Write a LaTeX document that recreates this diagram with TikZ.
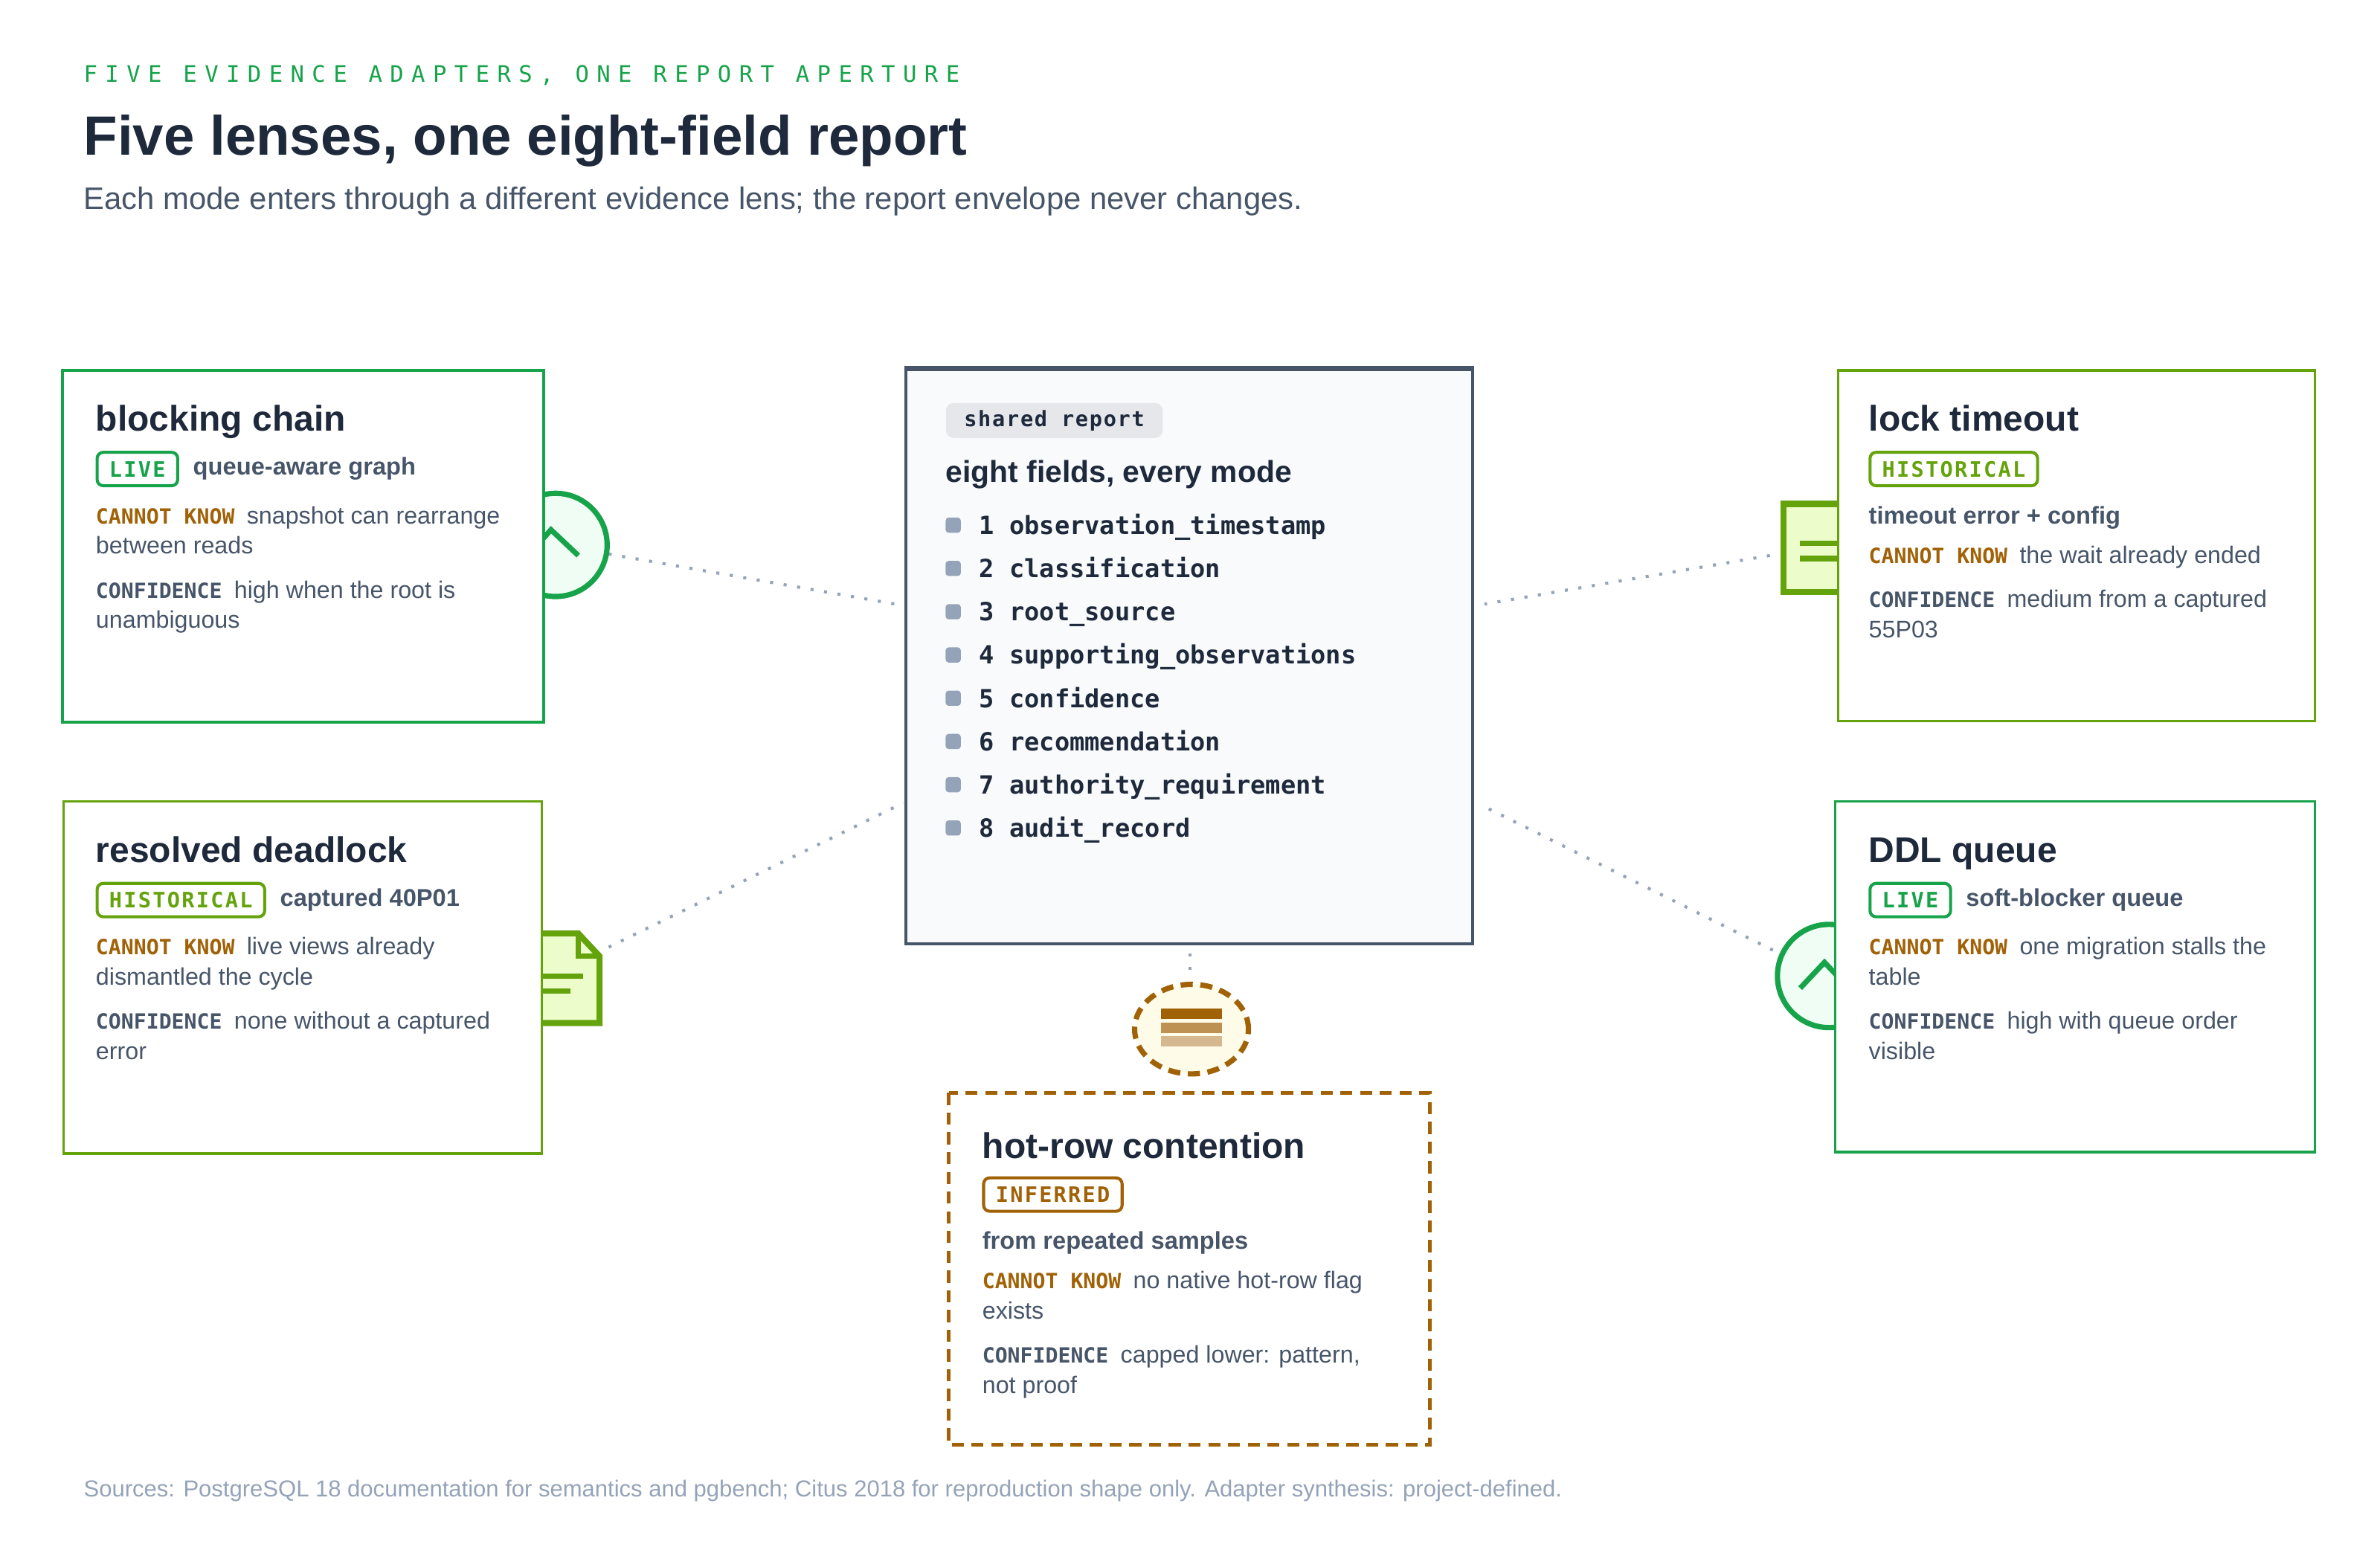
\documentclass[tikz,border=0pt]{standalone}
\usepackage{fontspec}
\setmainfont{Liberation Sans}
\newfontfamily\monofont{DejaVu Sans Mono}
\usetikzlibrary{positioning, shapes.geometric}
\definecolor{ink}{HTML}{1E293B}
\definecolor{slate}{HTML}{475569}
\definecolor{mute}{HTML}{94A3B8}
\definecolor{live}{HTML}{16A34A}
\definecolor{hist}{HTML}{65A30D}
\definecolor{infer}{HTML}{A16207}
\definecolor{livefill}{HTML}{F0FDF4}
\definecolor{histfill}{HTML}{ECFCCB}
\definecolor{inffill}{HTML}{FEFCE8}
\definecolor{panel}{HTML}{F8FAFC}
\definecolor{pill}{HTML}{E5E7EB}
\newcommand{\tagfont}{\monofont\bfseries\fontsize{13.8}{16}\selectfont}
\newcommand{\cannot}{\textcolor{infer}{\tagfont CANNOT KNOW}\hspace{8pt}}
\newcommand{\confid}{\textcolor{slate}{\tagfont CONFIDENCE}\hspace{8pt}}
\tikzset{%
    card/.style={draw=#1, fill=white, line width=1.6pt},
    mode title/.style={anchor=base west, inner sep=0, text=ink,
        font=\bfseries\fontsize{23.5}{26}\selectfont},
    badge/.style={draw=#1, text=#1, line width=2pt, rounded corners=4pt, anchor=west,
        inner xsep=8pt, inner ysep=0, minimum height=22pt,
        font=\monofont\bfseries\fontsize{14}{16}\selectfont\addfontfeatures{LetterSpace=8}},
    lens/.style={anchor=base west, inner sep=0, text=slate,
        font=\bfseries\fontsize{16}{19}\selectfont},
    body/.style={anchor=base west, inner sep=0, text=slate,
        font=\fontsize{15.8}{19}\selectfont},
    link/.style={mute, line width=2pt, dash pattern=on 2pt off 7pt},
    field/.style={anchor=base west, inner sep=0, text=ink,
        font=\monofont\bfseries\fontsize{16.5}{19}\selectfont}
}
\begin{document}
\begin{tikzpicture}[x=1pt, y=-1pt]
    \useasboundingbox[fill=white] (0, 0) rectangle (1568, 1019.2);

    % Heading
    \node[anchor=base west, inner sep=0, text=live,
        font=\monofont\fontsize{15}{18}\selectfont\addfontfeatures{LetterSpace=34}]
        (eyebrow) at (55, 54) {FIVE EVIDENCE ADAPTERS, ONE REPORT APERTURE};
    \node[anchor=base west, inner sep=0, text=ink,
        font=\bfseries\fontsize{36.5}{40}\selectfont]
        (title) at (55, 102) {Five lenses, one eight-field report};
    \node[anchor=base west, inner sep=0, text=slate,
        font=\fontsize{20.5}{23}\selectfont]
        (subtitle) at (55, 138) {Each mode enters through a different evidence lens; the report envelope never changes.};

    % Connector ends
    \coordinate (bcEnd) at (401, 365);
    \coordinate (ltEnd) at (1166, 366);
    \coordinate (rdEnd) at (401, 624);
    \coordinate (ddEnd) at (1168, 626);
    \coordinate (hrEnd) at (784, 645);
    \coordinate (repNW) at (590, 398);
    \coordinate (repNE) at (978, 398);
    \coordinate (repSW) at (595, 529);
    \coordinate (repSE) at (975, 530);
    \coordinate (repS) at (784, 628);

    \draw[link] (bcEnd) -- (repNW);
    \draw[link] (ltEnd) -- (repNE);
    \draw[link] (rdEnd) -- (repSW);
    \draw[link] (ddEnd) -- (repSE);
    \draw[link] (repS) -- (hrEnd);

    % Lens icons
    \draw[live, fill=livefill, line width=3.5pt] (366, 359) circle (34);
    \draw[live, line width=3.5pt] (348, 366) -- (363, 349) -- (381, 366);
    \draw[live, fill=livefill, line width=3.5pt] (1205, 643) circle (34);
    \draw[live, line width=3.5pt] (1186, 651) -- (1202, 634) -- (1218, 651);
    \draw[hist, fill=histfill, line width=4pt] (1175, 332) rectangle (1240, 390);
    \draw[hist, line width=3.5pt] (1186, 358) -- (1240, 358) (1186, 368) -- (1240, 368);
    \draw[hist, fill=histfill, line width=4pt, line join=miter]
        (330, 615) -- (381, 615) -- (395, 630) -- (395, 674) -- (330, 674) -- cycle;
    \draw[hist, line width=3.5pt] (381, 615) -- (381, 630) -- (395, 630);
    \draw[hist, line width=3.5pt] (340, 643) -- (384, 643) (340, 653) -- (376, 653);
    \node[ellipse, draw=infer, fill=inffill, line width=3.5pt,
        dash pattern=on 8pt off 5pt, minimum width=75pt, minimum height=59pt,
        inner sep=0] (hotIcon) at (785, 678) {};
    \fill[infer] (765, 664.5) rectangle (805, 671.5);
    \fill[infer!70] (765, 673.5) rectangle (805, 680.5);
    \fill[infer!45] (765, 682.5) rectangle (805, 689.5);

    % Shared report
    \draw[slate, fill=panel, line width=2pt] (597, 243) rectangle (970, 622);
    \draw[slate, line width=3.5pt] (596, 243) -- (971, 243);
    \node[fill=pill, rounded corners=5pt, anchor=west, inner xsep=12pt,
        minimum height=23pt, inner ysep=0, text=ink,
        font=\monofont\bfseries\fontsize{14}{16}\selectfont\addfontfeatures{LetterSpace=6}]
        (pillTag) at (623, 277) {shared report};
    \node[anchor=base west, inner sep=0, text=ink,
        font=\bfseries\fontsize{20}{24}\selectfont]
        (fieldsHead) at (623, 318) {eight fields, every mode};
    \foreach \i/\f in {1/observation\_timestamp, 2/classification, 3/root\_source,
        4/supporting\_observations, 5/confidence, 6/recommendation,
        7/authority\_requirement, 8/audit\_record}{%
        \fill[mute, rounded corners=2pt] (623, 341 + \i*28.5 - 28.5) rectangle ++(10, 10);
        \node[field] (field\i) at (645, 352 + \i*28.5 - 28.5) {\i\ \f};
    };

    % blocking chain
    \draw[card=live, line width=2pt] (41, 244) rectangle (358, 476);
    \node[mode title] (bcTitle) at (63, 284) {blocking chain};
    \node[badge=live] (bcBadge) at (63, 309) {LIVE};
    \node[lens, right=9pt of bcBadge.east, anchor=west] (bcLens) {queue-aware graph};
    \node[body] (bcCannot) at (63, 345) {\cannot snapshot can rearrange};
    \node[body] (bcCannot2) at (63, 365) {between reads};
    \node[body] (bcConf) at (63, 394) {\confid high when the root is};
    \node[body] (bcConf2) at (63, 414) {unambiguous};

    % lock timeout
    \draw[card=hist] (1211, 244) rectangle (1525, 475);
    \node[mode title] (ltTitle) at (1231, 284) {lock timeout};
    \node[badge=hist] (ltBadge) at (1231, 309) {HISTORICAL};
    \node[lens] (ltLens) at (1231, 345) {timeout error + config};
    \node[body] (ltCannot) at (1231, 371) {\cannot the wait already ended};
    \node[body] (ltConf) at (1231, 400) {\confid medium from a captured};
    \node[body] (ltConf2) at (1231, 420) {55P03};

    % resolved deadlock
    \draw[card=hist] (42, 528) rectangle (357, 760);
    \node[mode title] (rdTitle) at (63, 568) {resolved deadlock};
    \node[badge=hist] (rdBadge) at (63, 593) {HISTORICAL};
    \node[lens, right=9pt of rdBadge.east, anchor=west] (rdLens) {captured 40P01};
    \node[body] (rdCannot) at (63, 629) {\cannot live views already};
    \node[body] (rdCannot2) at (63, 649) {dismantled the cycle};
    \node[body] (rdConf) at (63, 678) {\confid none without a captured};
    \node[body] (rdConf2) at (63, 698) {error};

    % DDL queue
    \draw[card=live] (1209, 528) rectangle (1525, 759);
    \node[mode title] (ddTitle) at (1231, 568) {DDL queue};
    \node[badge=live] (ddBadge) at (1231, 593) {LIVE};
    \node[lens, right=9pt of ddBadge.east, anchor=west] (ddLens) {soft-blocker queue};
    \node[body] (ddCannot) at (1231, 629) {\cannot one migration stalls the};
    \node[body] (ddCannot2) at (1231, 649) {table};
    \node[body] (ddConf) at (1231, 678) {\confid high with queue order};
    \node[body] (ddConf2) at (1231, 698) {visible};

    % hot-row contention
    \draw[card=infer, line width=2.5pt, dash pattern=on 8pt off 5pt]
        (625, 720) rectangle (942, 952);
    \node[mode title] (hrTitle) at (647, 763) {hot-row contention};
    \node[badge=infer] (hrBadge) at (647, 787) {INFERRED};
    \node[lens] (hrLens) at (647, 823) {from repeated samples};
    \node[body] (hrCannot) at (647, 849) {\cannot no native hot-row flag};
    \node[body] (hrCannot2) at (647, 869) {exists};
    \node[body] (hrConf) at (647, 898) {\confid capped lower: pattern,};
    \node[body] (hrConf2) at (647, 918) {not proof};

    % Footer
    \node[anchor=base west, inner sep=0, text=mute,
        font=\fontsize{15.2}{17}\selectfont]
        (sources) at (55, 986) {Sources: PostgreSQL 18 documentation for semantics and pgbench; Citus 2018 for reproduction shape only. Adapter synthesis: project-defined.};
\end{tikzpicture}
\end{document}
